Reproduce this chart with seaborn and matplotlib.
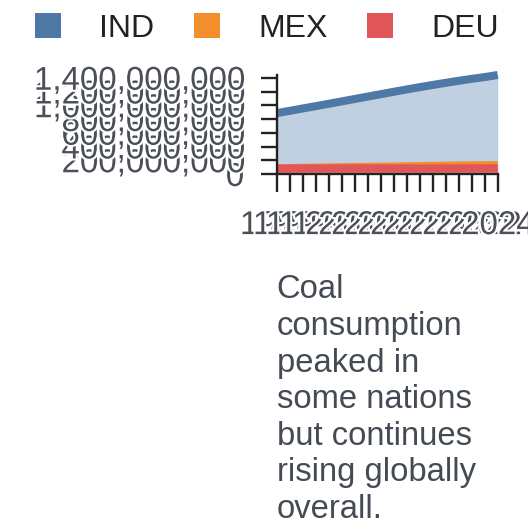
import matplotlib
matplotlib.use("Agg")
import matplotlib.pyplot as plt
import matplotlib.patheffects as pe
from matplotlib.patches import Patch
from matplotlib.ticker import FuncFormatter
import seaborn as sns
import pandas as pd

years = [1990, 1992, 1994, 1996, 1998, 2000, 2002, 2004, 2006, 2008,
         2010, 2012, 2014, 2016, 2018, 2020, 2022, 2024]
ind = [885, 919, 953, 987, 1021, 1056, 1091, 1126, 1161, 1196,
       1230, 1263, 1295, 1326, 1356, 1384, 1410, 1440]
mex = [84, 87, 90, 93, 96, 99, 102, 104, 106, 109,
       112, 115, 118, 121, 124, 126, 128, 130]
deu = [79.0, 80.6, 81.4, 81.9, 82.0, 82.2, 82.5, 82.5, 82.4, 82.1,
       81.8, 80.4, 81.0, 82.3, 82.9, 83.2, 83.8, 84.0]
countries = ["IND", "MEX", "DEU"]
colors = ["#4e79a7", "#f28e2b", "#e15759"]
yticks = [0, 200_000_000, 400_000_000, 600_000_000, 800_000_000,
          1_000_000_000, 1_200_000_000, 1_400_000_000]
note = "Coal\nconsumption\npeaked in\nsome nations\nbut continues\nrising globally\noverall."

series = {"IND": ind, "MEX": mex, "DEU": deu}
rows = []
for c in countries:
    for y, v in zip(years, series[c]):
        rows.append({"year": y, "country": c, "value": v * 1e6})
df = pd.DataFrame(rows)

sns.set_theme(style="white")
plt.rcParams["font.family"] = ["Liberation Sans", "DejaVu Sans"]

fig = plt.figure(figsize=(5.28, 5.28), dpi=100)
ax = fig.add_axes([276.7 / 528, 1 - 174 / 528, (497.7 - 276.7) / 528, (174 - 75) / 528])

for c, col in zip(countries, colors):
    sub = df[df.country == c]
    ax.fill_between(sub.year, 0, sub.value, color=col, alpha=0.35, linewidth=0)
    sns.lineplot(data=sub, x="year", y="value", color=col, linewidth=5.8,
                 ax=ax, legend=False, clip_on=False, solid_capstyle="butt")

ax.set_xlim(years[0], years[-1])
ax.set_ylim(0, max(ind) * 1e6)
ax.set_xticks(years)
ax.set_xticklabels([str(y) for y in years])
ax.set_yticks(yticks)
ax.yaxis.set_major_formatter(FuncFormatter(lambda v, p: f"{int(v):,}"))
ax.set_xlabel("")
ax.set_ylabel("")

for s in ["top", "right"]:
    ax.spines[s].set_visible(False)
for s in ["left", "bottom"]:
    ax.spines[s].set_color("#222222")
    ax.spines[s].set_linewidth(1.7)

ax.tick_params(axis="x", length=13, width=1.7, color="#222222", pad=13,
               labelsize=23.8, labelcolor="#4a4f58", bottom=True)
ax.tick_params(axis="y", length=11.5, width=1.7, color="#222222", pad=12,
               labelsize=23.8, labelcolor="#4a4f58", left=True)
for lab in ax.get_xticklabels() + ax.get_yticklabels():
    lab.set_path_effects([pe.withStroke(linewidth=3, foreground="white")])

handles = [Patch(facecolor=col, edgecolor="none", label=c) for c, col in zip(countries, colors)]
fig.legend(handles=handles, loc="center", bbox_to_anchor=(0.5 + 3 / 528, 1 - 28.5 / 528),
           ncol=3, frameon=False, fontsize=23, handlelength=0.8, handleheight=0.8,
           handletextpad=1.2, columnspacing=1.25, labelcolor="#222222",
           borderaxespad=0, borderpad=0)

fig.text(276.7 / 528, 1 - 274.5 / 528, note, ha="left", va="top",
         fontsize=23.6, color="#454b54", linespacing=1.23)

fig.savefig("out.png", dpi=100)
